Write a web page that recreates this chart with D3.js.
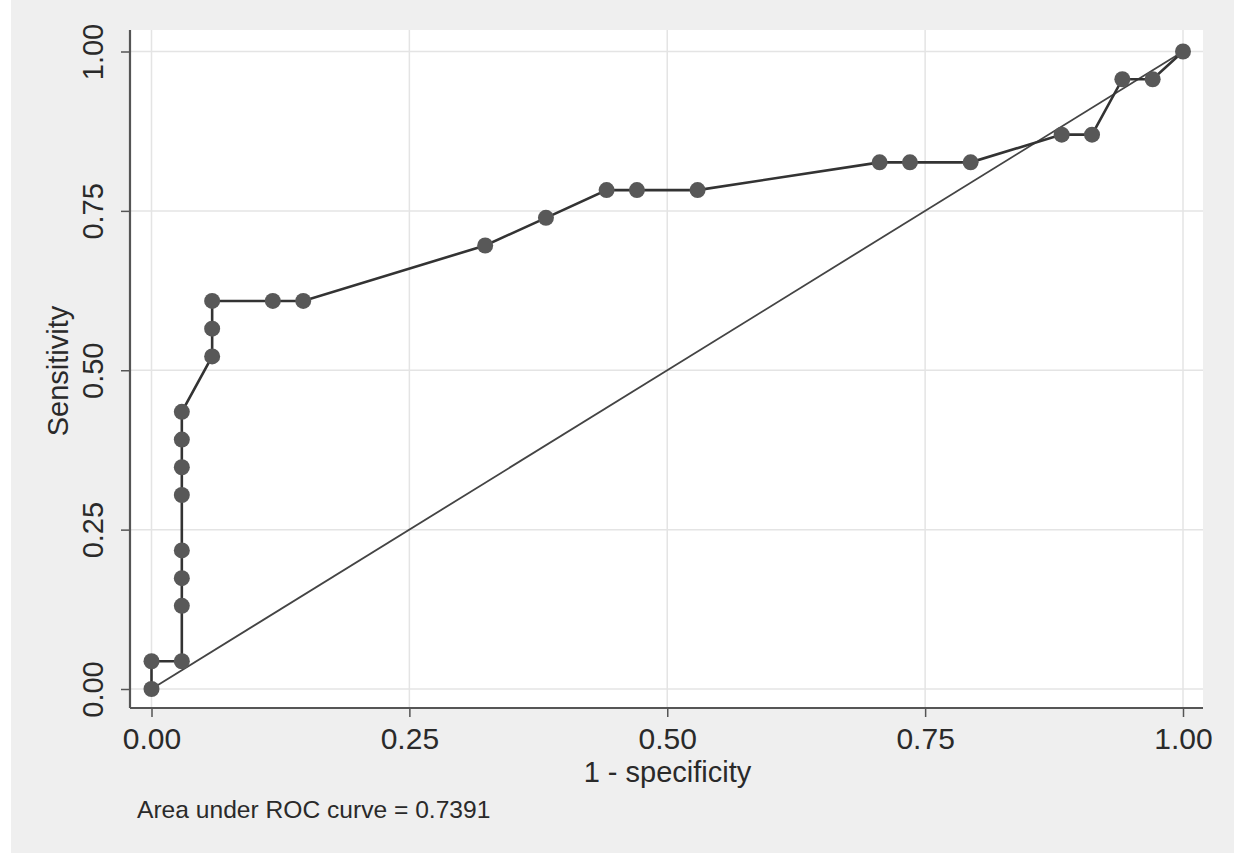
<!DOCTYPE html>
<html>
<head>
<meta charset="utf-8">
<script src="https://cdn.jsdelivr.net/npm/d3@7"></script>
<style>
  html, body { margin: 0; padding: 0; background: #ffffff; }
  svg { display: block; }
  text { font-family: "Liberation Sans", Arial, sans-serif; fill: #2a2a2a; }
</style>
</head>
<body>
<svg id="chart" width="1234" height="853"></svg>
<script>
// ROC points: 1 - specificity (x) and sensitivity (y)
const falsePosRate = [0, 0, 0.0294, 0.0294, 0.0294, 0.0294, 0.0294, 0.0294, 0.0294, 0.0294,
  0.0588, 0.0588, 0.0588, 0.1176, 0.1471, 0.3235, 0.3824, 0.4412, 0.4706, 0.5294,
  0.7059, 0.7353, 0.7941, 0.8824, 0.9118, 0.9412, 0.9706, 1];
const sensitivity = [0, 0.0435, 0.0435, 0.1304, 0.1739, 0.2174, 0.3043, 0.3478, 0.3913, 0.4348,
  0.5217, 0.5652, 0.6087, 0.6087, 0.6087, 0.6957, 0.7391, 0.7826, 0.7826, 0.7826,
  0.8261, 0.8261, 0.8261, 0.8696, 0.8696, 0.9565, 0.9565, 1];
const tickValues = [0, 0.25, 0.5, 0.75, 1];
const tickLabels = ["0.00", "0.25", "0.50", "0.75", "1.00"];
const xTitle = "1 - specificity";
const yTitle = "Sensitivity";
const note = "Area under ROC curve = 0.7391";

const svg = d3.select("#chart");
const W = 1234, H = 853;

svg.append("rect").attr("x", 0).attr("y", 0).attr("width", W).attr("height", H).attr("fill", "#efefef");
svg.append("rect").attr("x", 0).attr("y", 0).attr("width", 11).attr("height", H).attr("fill", "#ffffff");

const plotL = 130, plotR = 1203, plotT = 30, plotB = 708;
svg.append("rect").attr("x", plotL).attr("y", plotT).attr("width", plotR - plotL).attr("height", plotB - plotT).attr("fill", "#ffffff");

const x = d3.scaleLinear().domain([0, 1]).range([151.5, 1183]);
const y = d3.scaleLinear().domain([0, 1]).range([689, 51.5]);

// grid
const grid = svg.append("g");
tickValues.forEach(v => {
  grid.append("line").attr("x1", x(v)).attr("x2", x(v)).attr("y1", plotT).attr("y2", plotB)
    .attr("stroke", "#e4e4e4").attr("stroke-width", 1.5);
  grid.append("line").attr("x1", plotL).attr("x2", plotR).attr("y1", y(v)).attr("y2", y(v))
    .attr("stroke", "#e4e4e4").attr("stroke-width", 1.5);
});

// axes
const fmt = (d, i) => tickLabels[tickValues.indexOf(d)];
const xAxis = d3.axisBottom(x).tickValues(tickValues).tickFormat(fmt).tickSize(9).tickPadding(8);
const yAxis = d3.axisLeft(y).tickValues(tickValues).tickFormat(fmt).tickSize(9).tickPadding(8);

const gx = svg.append("g").attr("transform", `translate(0,${plotB})`).call(xAxis);
gx.select(".domain").attr("d", `M${plotL},0H${plotR}`).attr("stroke", "#555").attr("stroke-width", 2.2);
gx.selectAll(".tick line").attr("stroke", "#555").attr("stroke-width", 1.5);
gx.selectAll(".tick text").attr("font-size", 30).attr("fill", "#2a2a2a")
  .attr("font-family", "'Liberation Sans', Arial, sans-serif").attr("dy", "0.71em").attr("y", 20);

const gy = svg.append("g").attr("transform", `translate(${plotL},0)`).call(yAxis);
gy.select(".domain").attr("d", `M0,${plotT}V${plotB}`).attr("stroke", "#555").attr("stroke-width", 2.2);
gy.selectAll(".tick line").attr("stroke", "#555").attr("stroke-width", 1.5);
gy.selectAll(".tick text")
  .attr("font-size", 29).attr("fill", "#2a2a2a")
  .attr("font-family", "'Liberation Sans', Arial, sans-serif")
  .attr("x", null).attr("dy", null)
  .attr("text-anchor", "middle")
  .attr("transform", "translate(-27,0) rotate(-90)");

// reference diagonal
svg.append("line").attr("x1", x(0)).attr("y1", y(0)).attr("x2", x(1)).attr("y2", y(1))
  .attr("stroke", "#444").attr("stroke-width", 1.8);

// ROC curve
const pts = falsePosRate.map((fx, i) => [fx, sensitivity[i]]);
const line = d3.line().x(d => x(d[0])).y(d => y(d[1]));
svg.append("path").datum(pts).attr("d", line).attr("fill", "none")
  .attr("stroke", "#333").attr("stroke-width", 2.6);
svg.append("g").selectAll("circle").data(pts).join("circle")
  .attr("cx", d => x(d[0])).attr("cy", d => y(d[1])).attr("r", 8)
  .attr("fill", "#585858");

// titles
svg.append("text").attr("x", (plotL + plotR) / 2 + 1).attr("y", 782).attr("text-anchor", "middle")
  .attr("font-size", 29).text(xTitle);
svg.append("text").attr("transform", `translate(68,${(plotT + plotB) / 2 + 2}) rotate(-90)`)
  .attr("text-anchor", "middle").attr("font-size", 29).text(yTitle);
svg.append("text").attr("x", 137).attr("y", 818).attr("font-size", 24.6).text(note);
</script>
</body>
</html>
